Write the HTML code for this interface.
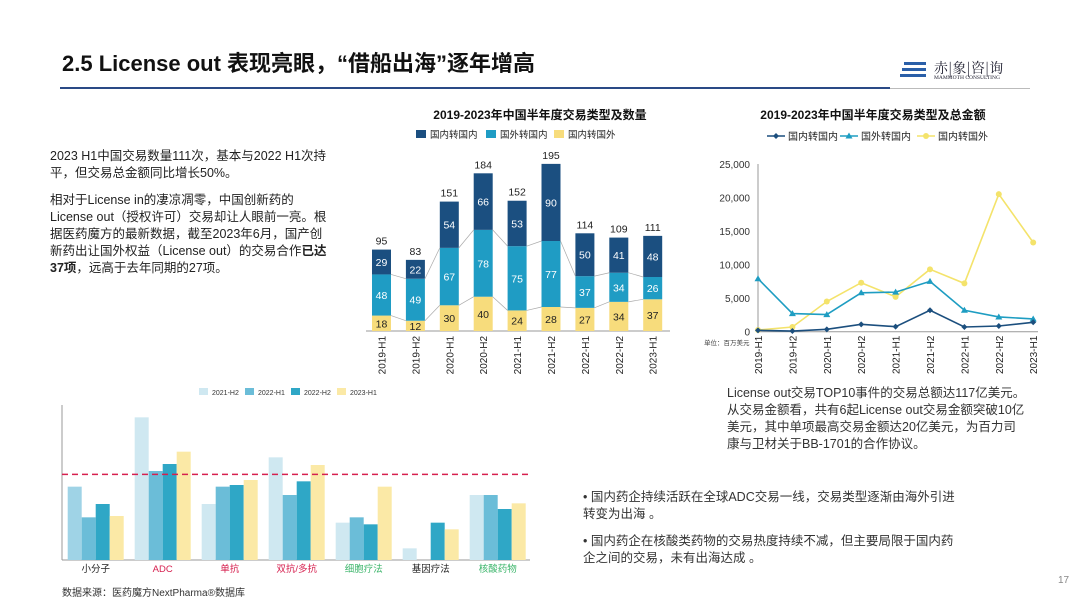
<!DOCTYPE html>
<html><head><meta charset="utf-8">
<style>
body{margin:0;width:1080px;height:608px;background:#fff;font-family:"Liberation Sans","Noto Sans CJK SC",sans-serif;position:relative;overflow:hidden;color:#222}
.abs{position:absolute}
.txt{font-size:12.5px;line-height:17px;color:#222}
</style></head><body>
<div class="abs" style="left:62px;top:46px;font-size:22px;font-weight:bold;color:#111">2.5 License out 表现亮眼，“借船出海”逐年增高</div>
<div class="abs" style="left:60px;top:88px;width:970px;height:1px;background:#bbb"></div>
<div class="abs" style="left:60px;top:87px;width:830px;height:2px;background:#2a4a86"></div>
<div class="abs" style="left:900px;top:60px;">
<svg width="30" height="20"><g fill="#2a5fa8"><rect x="4" y="2" width="22" height="3"/><rect x="2" y="8" width="24" height="3"/><rect x="0" y="14" width="26" height="3"/></g></svg>
<span style="position:absolute;left:34px;top:-2px;font-size:14px;font-family:'Noto Serif CJK SC',serif;color:#223;white-space:nowrap">赤|象|咨|询</span>
<span style="position:absolute;left:34px;top:15px;font-size:5.5px;font-family:'Liberation Serif',serif;white-space:nowrap;color:#223">MAMMOTH CONSULTING</span>
</div>

<div class="abs txt" style="left:50px;top:148px;width:282px">2023 H1中国交易数量111次，基本与2022 H1次持平，但交易总金额同比增长50%。<br><div style="height:10px"></div>相对于License in的凄凉凋零，中国创新药的License out（授权许可）交易却让人眼前一亮。根据医药魔方的最新数据，截至2023年6月，国产创新药出让国外权益（License out）的交易合作<b>已达37项</b>，远高于去年同期的27项。</div>

<div class="abs txt" style="left:727px;top:385px;width:300px;color:#333">License out交易TOP10事件的交易总额达117亿美元。从交易金额看，共有6起License out交易金额突破10亿美元，其中单项最高交易金额达20亿美元，为百力司康与卫材关于BB-1701的合作协议。</div>

<div class="abs txt" style="left:583px;top:489px;width:372px;color:#333">• 国内药企持续活跃在全球ADC交易一线，交易类型逐渐由海外引进转变为出海 。<div style="height:10px"></div>• 国内药企在核酸类药物的交易热度持续不减，但主要局限于国内药企之间的交易，未有出海达成 。</div>

<div class="abs" style="left:62px;top:584px;font-size:10px;color:#333">数据来源：医药魔方NextPharma®数据库</div>
<div class="abs" style="left:1058px;top:575px;font-size:10px;color:#888">17</div>

<svg id="chart1" class="abs" style="left:0;top:0" width="1080" height="608"></svg>

<script>
const cats = ["2019-H1","2019-H2","2020-H1","2020-H2","2021-H1","2021-H2","2022-H1","2022-H2","2023-H1"];
const domDom = [29,22,54,66,53,90,50,41,48];
const forDom = [48,49,67,78,75,77,37,34,26];
const domFor = [18,12,30,40,24,28,27,34,37];
const totals = [95,83,151,184,152,195,114,109,111];
const amtDomDom = [200,100,350,1100,750,3200,700,850,1400];
const amtForDom = [7900,2700,2550,5800,5900,7500,3200,2200,1900];
const amtDomFor = [250,700,4500,7300,5200,9300,7200,20500,13300];
const amtTicks = [0,5000,10000,15000,20000,25000];
const modCats = ["小分子","ADC","单抗","双抗/多抗","细胞疗法","基因疗法","核酸药物"];
const modSeries = ["2021-H2","2022-H1","2022-H2","2023-H1"];
const mod2021H2 = [220,428,168,308,112,35,195];
const mod2022H1 = [128,267,220,195,128,0,195];
const mod2022H2 = [168,288,225,236,107,112,153];
const mod2023H1 = [132,325,240,285,220,92,170];
const modThreshold = 257;

const svg = document.getElementById('chart1');
const NS = 'http://www.w3.org/2000/svg';
function mk(tag, attrs, parent){const e=document.createElementNS(NS,tag);for(const k in attrs)e.setAttribute(k,attrs[k]);(parent||svg).appendChild(e);return e;}
function tx(x,y,s,attrs){const e=mk('text',Object.assign({x:x,y:y,'font-family':'Liberation Sans, Noto Sans CJK SC, sans-serif'},attrs));e.textContent=s;return e;}

// ---- Chart 1: stacked bars
const c1 = mk('g',{});


let t=tx(540,119,'2019-2023年中国半年度交易类型及数量',{'font-size':12,'font-weight':'bold','text-anchor':'middle',fill:'#111'},c1);
const legs1=[['国内转国内','#1b4f80',416],['国外转国内','#1f9cc4',486],['国内转国外','#f7dc7c',554]];
legs1.forEach(l=>{const g=mk('g',{},c1);mk('rect',{x:l[2],y:130,width:10,height:8,fill:l[1]},g);tx(l[2]+14,138,l[0],{'font-size':9.5,fill:'#222'},g);});
const b0=331, ky=0.857, x0=381.5, dx=33.9, bw=19;
const bx=i=>x0+i*dx, by=v=>b0-v*ky;
mk('line',{x1:366,x2:670,y1:b0,y2:b0,stroke:'#999','stroke-width':1},c1);
const tops1=[],tops2=[];
cats.forEach((c,i)=>{
  const segs=[[domFor[i],'#f7dc7c','#222','bar-domestic-to-foreign'],[forDom[i],'#1f9cc4','#fff','bar-foreign-to-domestic'],[domDom[i],'#1b4f80','#fff','bar-domestic-to-domestic']];
  let acc=0;
  segs.forEach(s=>{const y1=by(acc+s[0]),y0=by(acc);
    const r=mk('rect',{x:bx(i)-bw/2,y:y1,width:bw,height:y0-y1,fill:s[1]},c1);
    
    
    tx(bx(i),(y0+y1)/2+4,String(s[0]),{'font-size':10.5,'text-anchor':'middle',fill:s[2]},c1);
    acc+=s[0];});
  tops1.push(by(domFor[i]));tops2.push(by(domFor[i]+forDom[i]));
  tx(bx(i),by(totals[i])-5,String(totals[i]),{'font-size':10.5,'text-anchor':'middle',fill:'#222'},c1);
  tx(0,0,c,{'font-size':10,'text-anchor':'end',fill:'#222',transform:`translate(${bx(i)+4},${b0+5}) rotate(-90)`},c1);
});
for(let i=0;i<cats.length-1;i++){[tops1,tops2].forEach(tp=>mk('line',{x1:bx(i)+bw/2,y1:tp[i],x2:bx(i+1)-bw/2,y2:tp[i+1],stroke:'#aaa','stroke-width':0.7},c1));}

// ---- Chart 2: lines
const c2=mk('g',{});


tx(873,119,'2019-2023年中国半年度交易类型及总金额',{'font-size':12,'font-weight':'bold','text-anchor':'middle',fill:'#111'},c2);
const lx0=758, ldx=34.4, ly0=331.7, lk=(331.7-164)/25000;
const lx=i=>lx0+i*ldx, ly=v=>ly0-v*lk;
mk('line',{x1:lx0,x2:lx0,y1:164,y2:ly0,stroke:'#999'},c2);
mk('line',{x1:lx0,x2:1038,y1:ly0,y2:ly0,stroke:'#999'},c2);
amtTicks.forEach(v=>{tx(750,ly(v)+4,v.toLocaleString('en-US'),{'font-size':10,'text-anchor':'end',fill:'#333'},c2);});
cats.forEach((c,i)=>tx(0,0,c,{'font-size':10,'text-anchor':'end',fill:'#222',transform:`translate(${lx(i)+4},${ly0+4}) rotate(-90)`},c2));
mk('rect',{x:700,y:337,width:60,height:14,fill:'#fff'},c2);
tx(704,345,'单位：百万美元',{'font-size':6.5,fill:'#444'},c2);
mk('rect',{x:700,y:352,width:380,height:20,fill:'#fff'},c2);
const lseries=[[amtDomFor,'#f4e36b','circle','line-domestic-to-foreign'],[amtForDom,'#1e9dc2','tri','line-foreign-to-domestic'],[amtDomDom,'#1c4f7e','dia','line-domestic-to-domestic']];
lseries.forEach(s=>{
  const p=mk('polyline',{points:s[0].map((v,i)=>lx(i)+','+ly(v)).join(' '),fill:'none',stroke:s[1],'stroke-width':1.6},c2);
  
  
  s[0].forEach((v,i)=>{const x=lx(i),y=ly(v);
    if(s[2]=='circle')mk('circle',{cx:x,cy:y,r:3,fill:s[1]},c2);
    else if(s[2]=='tri')mk('polygon',{points:`${x},${y-3.5} ${x-3.5},${y+2.5} ${x+3.5},${y+2.5}`,fill:s[1]},c2);
    else mk('polygon',{points:`${x},${y-3} ${x+3},${y} ${x},${y+3} ${x-3},${y}`,fill:s[1]},c2);});
});
const legs2=[['国内转国内','#1c4f7e',785,'dia'],['国外转国内','#1e9dc2',858,'tri'],['国内转国外','#f4e36b',935,'circle']];
legs2.forEach(l=>{const g=mk('g',{},c2);
  mk('line',{x1:l[2]-18,x2:l[2],y1:136,y2:136,stroke:l[1],'stroke-width':1.6},g);
  if(l[3]=='circle')mk('circle',{cx:l[2]-9,cy:136,r:3,fill:l[1]},g);
  else if(l[3]=='tri')mk('polygon',{points:`${l[2]-9},132.5 ${l[2]-12.5},138.5 ${l[2]-5.5},138.5`,fill:l[1]},g);
  else mk('polygon',{points:`${l[2]-9},133 ${l[2]-6},136 ${l[2]-9},139 ${l[2]-12},136`,fill:l[1]},g);
  tx(l[2]+3,140,l[0],{'font-size':10,fill:'#222'},g);});

// ---- Chart 3: modality grouped bars
const c3=mk('g',{});


const mb0=560, mk3=1/3, gx0=67.7, gdx=67, mbw=14;
const mcol=['#cfe8f1','#6bbdd8','#2fa7c6','#fbe9a6'];
const mseries=[mod2021H2,mod2022H1,mod2022H2,mod2023H1];
mk('line',{x1:62,x2:62,y1:405,y2:mb0,stroke:'#999'},c3);
mk('line',{x1:62,x2:530,y1:mb0,y2:mb0,stroke:'#999'},c3);
modCats.forEach((c,i)=>{
  mseries.forEach((s,j)=>{const h=s[i]*mk3;
    const r=mk('rect',{x:gx0+i*gdx+j*mbw,y:mb0-h,width:mbw,height:h,fill:(i==0&&j==0)?'#9fd3e6':mcol[j]},c3);
    
    });
  const col=(i>=1&&i<=3)?'#d6204f':(i==4||i==6)?'#3bb56a':'#222';
  tx(gx0+i*gdx+2*mbw,572,c,{'font-size':9.5,'text-anchor':'middle',fill:col},c3);
});
mk('line',{x1:62,x2:530,y1:mb0-modThreshold*mk3,y2:mb0-modThreshold*mk3,stroke:'#d6204f','stroke-width':1.5,'stroke-dasharray':'6,4'},c3);
modSeries.forEach((s,j)=>{const x=199+j*46;const g=mk('g',{},c3);
  mk('rect',{x:x,y:388,width:9,height:7,fill:mcol[j]},g);tx(x+13,395,s,{'font-size':7,fill:'#333'},g);});
</script>
</body></html>
